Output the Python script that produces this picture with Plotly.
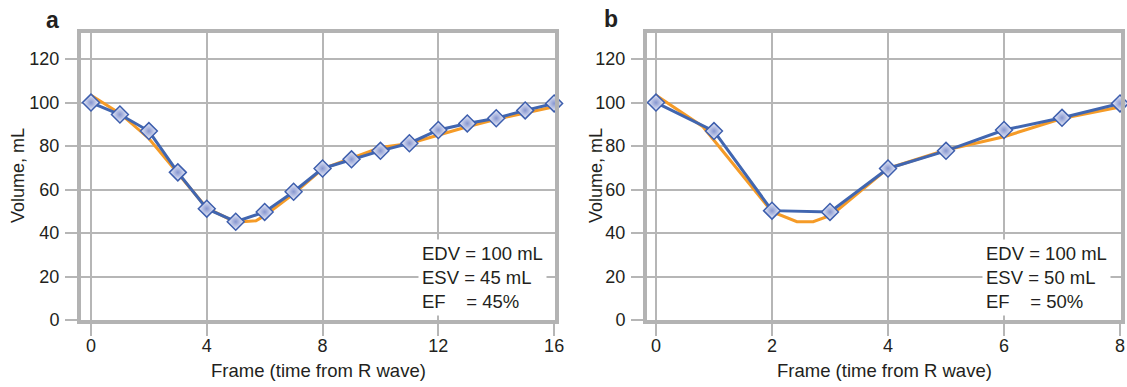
import plotly.graph_objects as go

# ---------------- data ----------------
# Panel a: 16 frames
a_frames = list(range(17))
a_measured = [100, 94.5, 86.9, 67.9, 51.2, 45.2, 49.7, 59.0, 69.7, 73.9,
              77.8, 81.3, 87.4, 90.4, 92.8, 96.4, 99.6]
a_curve_x = [0, 1, 2, 3, 4, 5, 5.7, 6, 7, 8, 9, 10, 11, 12, 13, 14, 15, 16]
a_curve_y = [103.4, 95.0, 83.5, 67.5, 51.5, 45.0, 45.6, 48.0, 58.0, 69.5,
             74.5, 79.3, 81.2, 85.1, 88.9, 92.3, 95.3, 98.1]

# Panel b: 8 frames
b_frames = list(range(9))
b_measured = [100, 86.9, 50.3, 49.7, 69.7, 77.8, 87.4, 93.0, 99.6]
b_curve_x = [0, 0.81, 2, 2.43, 2.71, 3.03, 4, 5, 6, 7, 8]
b_curve_y = [103.4, 88.9, 49.8, 45.2, 45.2, 48.3, 69.7, 78.2, 84.3, 92.7, 98.0]

a_xticks = [0, 4, 8, 12, 16]
b_xticks = [0, 2, 4, 6, 8]
y_ticks = [0, 20, 40, 60, 80, 100, 120]

a_text = ["EDV = 100 mL", "ESV = 45 mL", "EF\u00a0\u00a0\u00a0\u00a0= 45%"]
b_text = ["EDV = 100 mL", "ESV = 50 mL", "EF\u00a0\u00a0\u00a0\u00a0= 50%"]

# ---------------- styling ----------------
W, H = 1127, 387
BLUE = "#4166B0"
ORANGE = "#F59B27"
GRID = "#B6B6B6"
BORDER = "#B3B3B3"
TXT = "#231F20"
FONT = "Liberation Sans, Arial, sans-serif"

fig = go.Figure()


def add_panel(xs_c, ys_c, xs_m, ys_m, xa, ya):
    fig.add_trace(go.Scatter(x=xs_c, y=ys_c, mode="lines",
                             line=dict(color=ORANGE, width=3),
                             xaxis=xa, yaxis=ya, showlegend=False,
                             cliponaxis=False, hoverinfo="skip"))
    fig.add_trace(go.Scatter(x=xs_m, y=ys_m, mode="lines+markers",
                             line=dict(color=BLUE, width=3),
                             marker=dict(symbol="diamond", size=13,
                                         color="#EEF0FA",
                                         gradient=dict(type="radial", color="#8696D0"),
                                         line=dict(color="#3D5EAD", width=1.5)),
                             xaxis=xa, yaxis=ya, showlegend=False,
                             cliponaxis=False))


add_panel(a_curve_x, a_curve_y, a_frames, a_measured, "x", "y")
add_panel(b_curve_x, b_curve_y, b_frames, b_measured, "x2", "y2")

ydom = [1 - 320 / H, 1 - 33 / H]
common_axis = dict(showline=True, linewidth=4, linecolor=BORDER, mirror=True,
                   showgrid=True, gridcolor=GRID, gridwidth=1.5,
                   ticks="outside", ticklen=12, tickcolor=GRID, tickwidth=1.5,
                   zeroline=False, automargin=False,
                   tickfont=dict(family=FONT, size=18, color=TXT))

fig.update_layout(
    width=W, height=H,
    margin=dict(l=0, r=0, t=0, b=0, pad=0),
    paper_bgcolor="white", plot_bgcolor="white",
    xaxis=dict(domain=[81 / W, 555 / W], range=[-0.345, 16.03],
               tickvals=a_xticks, anchor="y", ticklabelstandoff=-6, **common_axis),
    yaxis=dict(domain=ydom, range=[0, 132], tickvals=y_ticks, anchor="x",
               ticklabelstandoff=2, **common_axis),
    xaxis2=dict(domain=[647 / W, 1121 / W], range=[-0.155, 8.017],
                tickvals=b_xticks, anchor="y2", ticklabelstandoff=-6, **common_axis),
    yaxis2=dict(domain=ydom, range=[0, 132], tickvals=y_ticks, anchor="x2",
                ticklabelstandoff=2, **common_axis),
)

anns = []
# panel letters
anns.append(dict(text="<b>a</b>", x=52 / W, y=1 - 20 / H, xref="paper", yref="paper",
                 xanchor="center", yanchor="middle", showarrow=False,
                 font=dict(family=FONT, size=23, color=TXT)))
anns.append(dict(text="<b>b</b>", x=611 / W, y=1 - 19 / H, xref="paper", yref="paper",
                 xanchor="center", yanchor="middle", showarrow=False,
                 font=dict(family=FONT, size=23, color=TXT)))
# axis titles
for xc in (18, 596):
    anns.append(dict(text="Volume, mL", x=xc / W, y=1 - 176 / H, xref="paper", yref="paper",
                     xanchor="center", yanchor="middle", textangle=-90, showarrow=False,
                     font=dict(family=FONT, size=18, color=TXT)))
for xc in (318, 884):
    anns.append(dict(text="Frame (time from R wave)", x=xc / W, y=1 - 370 / H,
                     xref="paper", yref="paper", xanchor="center", yanchor="middle",
                     showarrow=False, font=dict(family=FONT, size=18.5, color=TXT)))
# EDV / ESV / EF boxes
for xl, lines in ((418, a_text), (982, b_text)):
    anns.append(dict(text="<br>".join(lines), x=xl / W, y=1 - 277 / H,
                     xref="paper", yref="paper", xanchor="left", yanchor="middle",
                     align="left", showarrow=False, bgcolor="white", borderpad=3,
                     font=dict(family=FONT, size=18.5, color=TXT)))

fig.update_layout(annotations=anns)
fig.write_html("out.html", config={"displayModeBar": False},
               post_script="document.body.style.margin='0';document.body.style.overflow='hidden';")
